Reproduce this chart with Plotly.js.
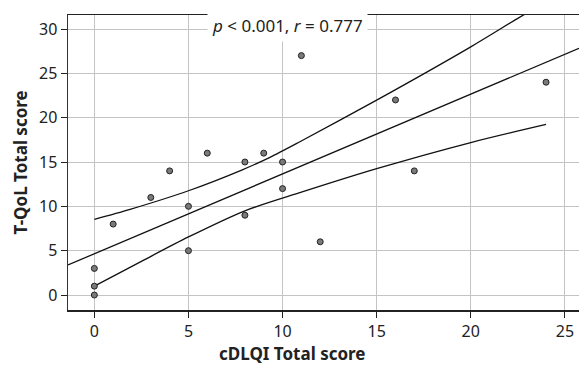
<!DOCTYPE html>
<html>
<head>
<meta charset="utf-8">
<script src="https://cdn.plot.ly/plotly-3.0.1.min.js"></script>
<style>html,body{margin:0;padding:0;background:#fff;}#chart{width:579px;height:365px;}</style>
</head>
<body>
<div id="chart"></div>
<script>
// Observed points (cDLQI total score, T-QoL total score)
const cdlqi = [0, 0, 0, 1, 3, 4, 5, 5, 6, 8, 8, 9, 10, 10, 11, 12, 16, 17, 24];
const tqol  = [0, 1, 3, 8, 11, 14, 10, 5, 16, 15, 9, 16, 15, 12, 27, 6, 22, 14, 24];

// Regression line
const fitX = [-1.4, 25.75];
const fitY = [3.39, 27.83];

// Confidence band curves
const upperX = [0, 1.9, 5, 7.83, 9.33, 10.92, 15, 20, 22.34, 24];
const upperY = [8.53, 9.66, 11.76, 14.09, 15.52, 17.28, 21.98, 27.99, 31.0, 33.1];
const lowerX = [0, 2.5, 5, 8, 11, 15, 20, 24];
const lowerY = [1.01, 3.8, 6.55, 9.5, 11.6, 14.25, 17.2, 19.24];

const xTicks = [0, 5, 10, 15, 20, 25];
const yTicks = [0, 5, 10, 15, 20, 25, 30];

const FONT = '"Noto Sans", "DejaVu Sans", sans-serif';
const lineStyle = {color: '#111', width: 1.3};

const traces = [
  {x: upperX, y: upperY, mode: 'lines', line: Object.assign({shape: 'spline', smoothing: 0.8}, lineStyle), hoverinfo: 'skip'},
  {x: lowerX, y: lowerY, mode: 'lines', line: Object.assign({shape: 'spline', smoothing: 0.8}, lineStyle), hoverinfo: 'skip'},
  {x: fitX, y: fitY, mode: 'lines', line: lineStyle, hoverinfo: 'skip'},
  {x: cdlqi, y: tqol, mode: 'markers', cliponaxis: false,
   marker: {size: 6, color: '#7a7a7a', line: {color: '#222', width: 1}}}
];

const layout = {
  width: 579, height: 365,
  margin: {l: 68, r: 0, t: 15, b: 55},
  paper_bgcolor: '#fff', plot_bgcolor: '#fff',
  showlegend: false,
  font: {family: FONT, size: 16, color: '#222'},
  xaxis: {
    range: [-1.4, 25.75], tickvals: xTicks, ticktext: xTicks.map(String),
    showgrid: true, gridcolor: '#c4c4c4', gridwidth: 1, zeroline: false,
    showline: true, linecolor: '#222', linewidth: 1.5, mirror: true,
    ticks: 'outside', ticklen: 6, tickcolor: '#222', tickwidth: 1,
    tickfont: {family: FONT, size: 16, color: '#222'}
  },
  yaxis: {
    range: [-1.69, 31.58], tickvals: yTicks, ticktext: yTicks.map(String),
    showgrid: true, gridcolor: '#c4c4c4', gridwidth: 1, zeroline: false,
    showline: true, linecolor: '#333', linewidth: 1.5,
    ticks: 'outside', ticklen: 6, tickcolor: '#222', tickwidth: 1,
    tickfont: {family: FONT, size: 16, color: '#222'}
  },
  annotations: [
    {text: '<i>p</i> &lt; 0.001, <i>r</i> = 0.777', xref: 'paper', yref: 'paper',
     x: 0.4286, y: 0.963, xanchor: 'center', yanchor: 'middle', showarrow: false,
     bgcolor: '#fff', borderpad: 4, font: {family: FONT, size: 17, color: '#222'}},
    {text: '<b>cDLQI Total score</b>', xref: 'paper', yref: 'paper',
     x: 0.439, y: -0.146, xanchor: 'center', yanchor: 'middle', showarrow: false,
     font: {family: FONT, size: 17, color: '#222'}},
    {text: '<b>T-QoL Total score</b>', xref: 'paper', yref: 'paper', textangle: -90,
     x: -0.092, y: 0.5, xanchor: 'center', yanchor: 'middle', showarrow: false,
     font: {family: FONT, size: 17, color: '#222'}}
  ]
};

Plotly.newPlot('chart', traces, layout, {staticPlot: true, displayModeBar: false});
</script>
</body>
</html>
